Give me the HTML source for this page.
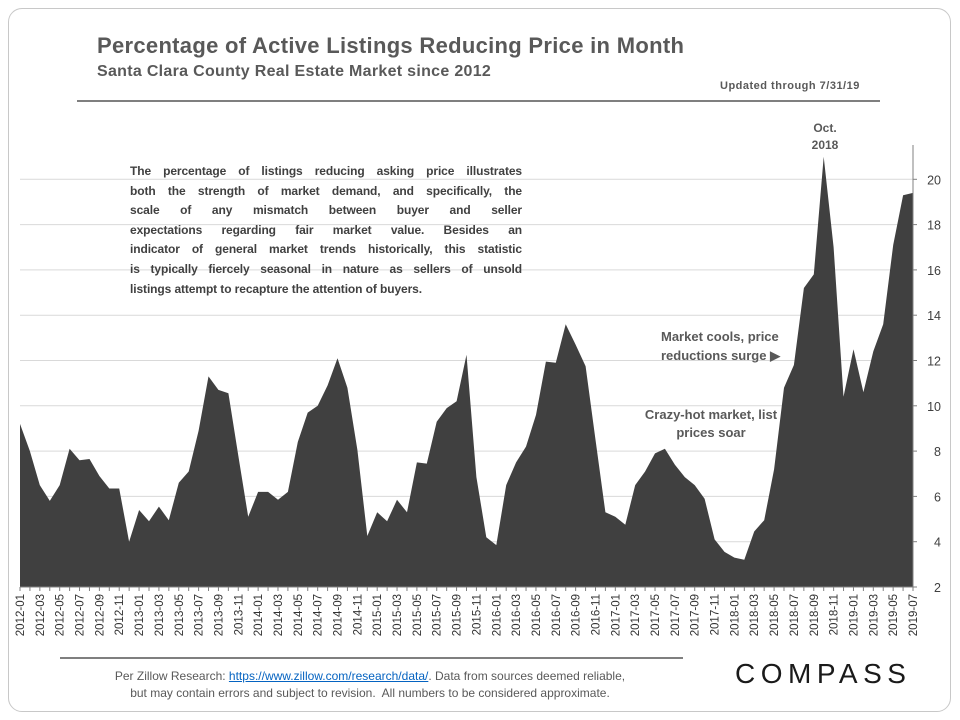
<!DOCTYPE html>
<html><head><meta charset="utf-8"><style>
body{margin:0;width:960px;height:720px;background:#fff;font-family:"Liberation Sans",sans-serif;overflow:hidden;position:relative}
.card{position:absolute;left:8px;top:8px;width:941px;height:702px;border:1px solid #c8c8c8;border-radius:14px}
.t{position:absolute;color:#595959;font-weight:bold}
.ln{white-space:nowrap;text-align:justify;text-align-last:justify;height:19.6px}
</style></head><body>
<div class="card"></div>
<div class="t" style="left:97px;top:33px;font-size:22px;letter-spacing:0.3px">Percentage of Active Listings Reducing Price in Month</div>
<div class="t" style="left:97px;top:63px;font-size:16px;letter-spacing:0.3px">Santa Clara County Real Estate Market since 2012</div>
<div class="t" style="left:720px;top:80px;font-size:11px;letter-spacing:0.5px">Updated through 7/31/19</div>
<div style="position:absolute;left:77px;top:100px;width:803px;height:2px;background:#7f7f7f"></div>
<svg id="chart" width="960" height="720" style="position:absolute;left:0;top:0"></svg>
<div class="t" style="left:130px;top:162px;width:392px;font-size:12px;line-height:19.6px;color:#404040;letter-spacing:-0.1px">
<div class="ln">The percentage of listings reducing asking price illustrates</div>
<div class="ln">both the strength of market demand, and specifically, the</div>
<div class="ln">scale of any mismatch between buyer and seller</div>
<div class="ln">expectations regarding fair market value. Besides an</div>
<div class="ln">indicator of general market trends historically, this statistic</div>
<div class="ln">is typically fiercely seasonal in nature as sellers of unsold</div>
<div style="white-space:nowrap">listings attempt to recapture the attention of buyers.</div>
</div>
<div class="t" style="left:661px;top:327px;font-size:13px;line-height:19px">Market cools, price<br>reductions surge &#9654;</div>
<div class="t" style="left:616px;top:406px;width:190px;text-align:center;font-size:13px;line-height:18px">Crazy-hot market, list<br>prices soar</div>
<div class="t" style="left:795px;top:120px;width:60px;text-align:center;font-size:12px;line-height:17px">Oct.<br>2018</div>
<div style="position:absolute;left:60px;top:657px;width:623px;height:2px;background:#7f7f7f"></div>
<div style="position:absolute;left:40px;top:668px;width:660px;text-align:center;font-size:12px;line-height:17px;color:#595959">Per Zillow Research: <span style="color:#0563c1;text-decoration:underline">https://www.zillow.com/research/data/</span>. Data from sources deemed reliable,<br>but may contain errors and subject to revision.&nbsp; All numbers to be considered approximate.</div>
<div style="position:absolute;left:735px;top:658px;font-size:28px;letter-spacing:5.5px;color:#1a1a1a">COMPASS</div>
<script>
const categories=[];
for(let y=2012;y<=2019;y++)for(let m=1;m<=12;m++){if(y===2019&&m>7)break;categories.push(y+'-'+String(m).padStart(2,'0'));}
const values=[9.2,8.0,6.5,5.8,6.5,8.1,7.6,7.65,6.9,6.35,6.35,4.0,
5.4,4.9,5.55,4.95,6.6,7.1,8.9,11.3,10.7,10.55,7.8,5.1,
6.2,6.2,5.85,6.2,8.4,9.7,10.0,10.9,12.1,10.8,8.05,4.25,
5.3,4.9,5.85,5.3,7.5,7.45,9.3,9.9,10.2,12.25,6.85,4.2,
3.85,6.5,7.5,8.2,9.6,11.95,11.9,13.6,12.7,11.75,8.5,5.3,
5.1,4.75,6.5,7.1,7.9,8.1,7.4,6.85,6.5,5.9,4.1,3.55,
3.3,3.2,4.45,4.95,7.2,10.8,11.8,15.2,15.8,21.0,17.0,10.4,
12.5,10.6,12.4,13.6,17.1,19.3,19.4];
const yTicks=[2,4,6,8,10,12,14,16,18,20];
const NS='http://www.w3.org/2000/svg';
const svg=document.getElementById('chart');
const X0=20,X1=913,Y0=587,PX=22.65;
const xs=i=>X0+i*(X1-X0)/(categories.length-1);
const ys=v=>Y0-(v-2)*PX;
function mk(t,a){const e=document.createElementNS(NS,t);for(const k in a)e.setAttribute(k,a[k]);svg.appendChild(e);return e;}
yTicks.forEach(v=>{
 if(v>2){const g=mk('line',{x1:X0,x2:X1,y1:ys(v),y2:ys(v),stroke:'#d9d9d9','stroke-width':1});
 
 }
 const t=mk('text',{x:941,y:ys(v)+5,'text-anchor':'end','font-size':12.5,fill:'#404040','font-family':'Liberation Sans, sans-serif'});
 t.textContent=v;
 
 
});
let d='M'+xs(0)+','+Y0;
values.forEach((v,i)=>{d+=' L'+xs(i).toFixed(1)+','+ys(v).toFixed(1);});
d+=' L'+xs(values.length-1)+','+Y0+' Z';
const area=mk('path',{d:d,fill:'#404040'});


const ax=mk('line',{x1:X1,x2:X1,y1:145,y2:Y0,stroke:'#808080','stroke-width':1});


const bx=mk('line',{x1:X0,x2:X1,y1:Y0,y2:Y0,stroke:'#808080','stroke-width':1});


yTicks.forEach(v=>{const tk=mk('line',{x1:X1,x2:X1+4,y1:ys(v),y2:ys(v),stroke:'#808080'});
 
 });
categories.forEach((c,i)=>{
 const tk=mk('line',{x1:xs(i),x2:xs(i),y1:Y0,y2:Y0+4,stroke:'#808080'});
 
 
 if(i%2===0){
  const t=mk('text',{x:0,y:0,'text-anchor':'end','font-size':11.5,fill:'#333','font-family':'Liberation Sans, sans-serif',transform:'translate('+(xs(i)+4)+','+(Y0+7)+') rotate(-90)'});
  t.textContent=c;
  
  
 }
});
</script>
</body></html>
